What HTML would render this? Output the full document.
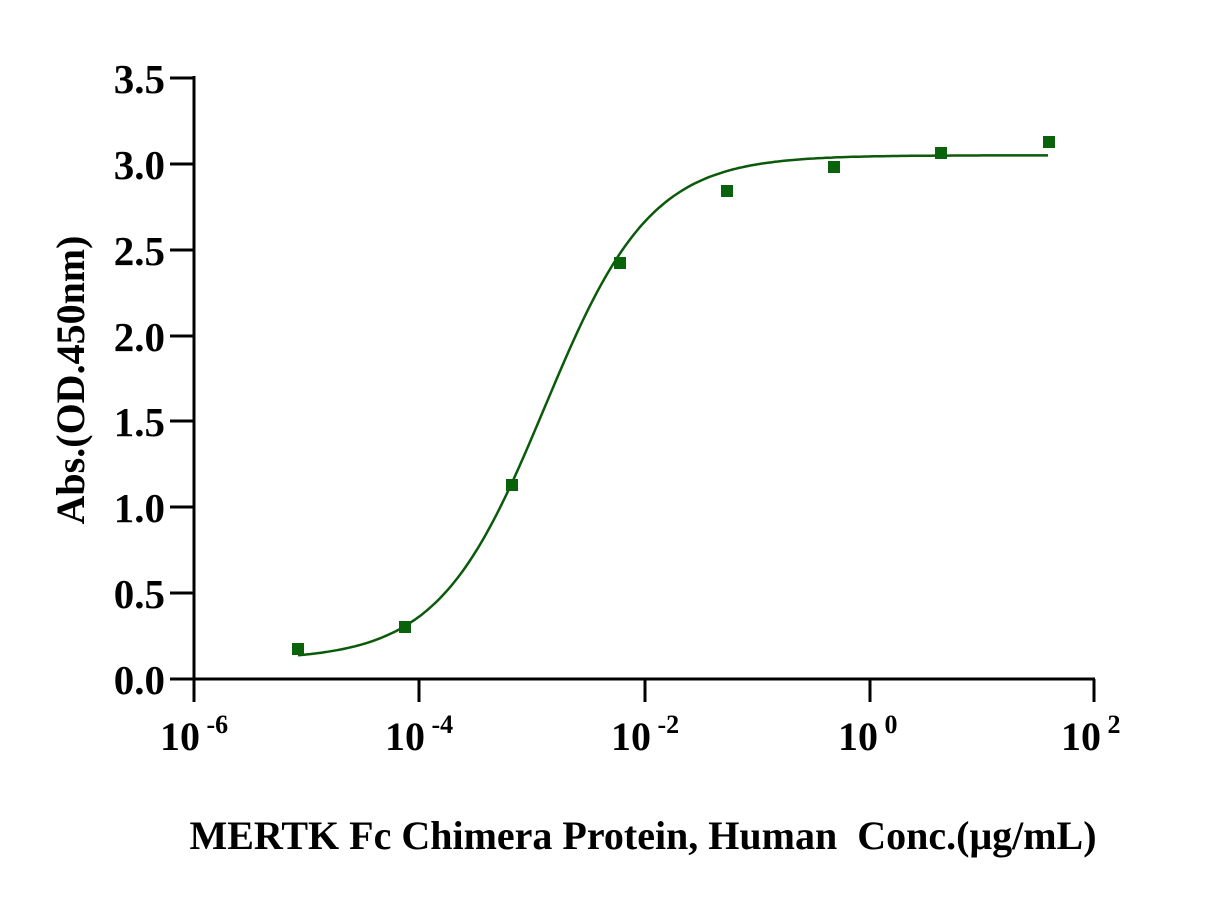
<!DOCTYPE html>
<html><head><meta charset="utf-8"><style>
html,body{margin:0;padding:0;background:#fff;}
svg{display:block;}
text{font-family:"Liberation Serif",serif;font-weight:bold;fill:#000;}
</style></head><body>
<svg id="s" width="1219" height="901" xmlns="http://www.w3.org/2000/svg">
<g stroke="#000" stroke-width="3" fill="none">
<line x1="194" y1="76" x2="194" y2="680"/>
<line x1="170" y1="679" x2="1095" y2="679"/>
<line x1="170" y1="78" x2="194" y2="78"/>
<line x1="170" y1="164" x2="194" y2="164"/>
<line x1="170" y1="250" x2="194" y2="250"/>
<line x1="170" y1="336" x2="194" y2="336"/>
<line x1="170" y1="421" x2="194" y2="421"/>
<line x1="170" y1="507" x2="194" y2="507"/>
<line x1="170" y1="593" x2="194" y2="593"/>
<line x1="194" y1="679" x2="194" y2="702"/>
<line x1="419" y1="679" x2="419" y2="702"/>
<line x1="645" y1="679" x2="645" y2="702"/>
<line x1="870" y1="679" x2="870" y2="702"/>
<line x1="1094" y1="679" x2="1094" y2="702"/>
</g>
<g font-size="41" text-anchor="end">
<text x="165" y="93">3.5</text>
<text x="165" y="179">3.0</text>
<text x="165" y="265">2.5</text>
<text x="165" y="351">2.0</text>
<text x="165" y="436">1.5</text>
<text x="165" y="522">1.0</text>
<text x="165" y="608">0.5</text>
<text x="165" y="694">0.0</text>
</g>
<g font-size="40">
<text x="160" y="750">10<tspan font-size="26" dy="-17"> -6</tspan></text>
<text x="385" y="750">10<tspan font-size="26" dy="-17"> -4</tspan></text>
<text x="611" y="750">10<tspan font-size="26" dy="-17"> -2</tspan></text>
<text x="838" y="750">10<tspan font-size="26" dy="-17"> 0</tspan></text>
<text x="1061" y="750">10<tspan font-size="26" dy="-17"> 2</tspan></text>
</g>
<text x="643" y="849" font-size="40" text-anchor="middle">MERTK Fc Chimera Protein, Human&#160; Conc.(μg/mL)</text>
<text transform="translate(84,380) rotate(-90)" font-size="40" text-anchor="middle">Abs.(OD.450nm)</text>
<path id="c" fill="none" stroke="#0a5a0a" stroke-width="2.5" d=""/>
<g fill="#0a620a">
<rect x="292" y="643" width="12" height="12"/>
<rect x="399" y="621" width="12" height="12"/>
<rect x="506" y="479" width="12" height="12"/>
<rect x="614" y="257" width="12" height="12"/>
<rect x="721" y="185" width="12" height="12"/>
<rect x="828" y="161" width="12" height="12"/>
<rect x="935" y="147" width="12" height="12"/>
<rect x="1043" y="136" width="12" height="12"/>
</g>
<script>
var d="";for(var x=298;x<=1049;x+=3){var l=(x-193.5)/112.5-6;var v=0.11+2.94/(1+Math.pow(10,(-2.88-l)*0.92));var y=679-v*171.7;d+=(d?"L":"M")+x+","+y.toFixed(1);}
document.getElementById("c").setAttribute("d",d);
</script>
</svg>
</body></html>
